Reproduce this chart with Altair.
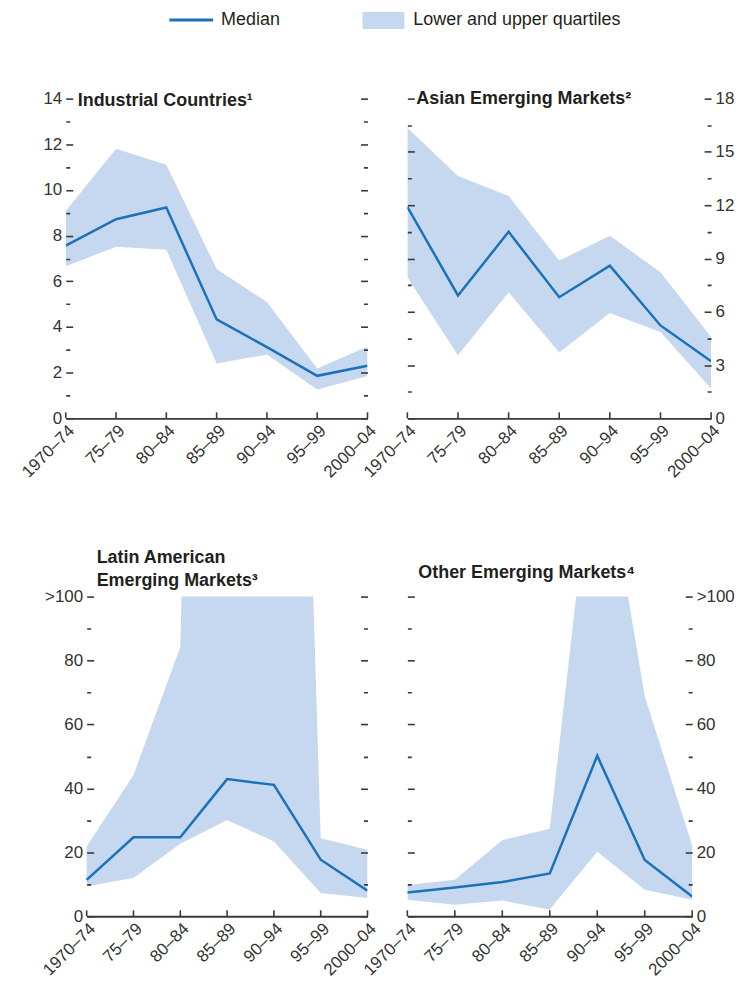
import altair as alt
import pandas as pd

FONT = "Liberation Sans Narrow, Arial Narrow, Liberation Sans, sans-serif"
LINE = "#1b72b9"
BAND = "#c6d8ef"
INK = "#231f20"
AX = "#3a3a3a"

periods = ["1970–74", "75–79", "80–84", "85–89", "90–94", "95–99", "2000–04"]

ind_med = [7.56, 8.72, 9.23, 4.33, 3.12, 1.86, 2.30]
ind_lo = [6.66, 7.51, 7.38, 2.40, 2.79, 1.26, 1.85]
ind_hi = [9.08, 11.8, 11.1, 6.54, 5.09, 2.18, 3.15]

asia_med = [11.9, 6.92, 10.5, 6.82, 8.6, 5.23, 3.21]
asia_lo = [7.94, 3.55, 7.1, 3.7, 5.93, 4.86, 1.68]
asia_hi = [16.36, 13.64, 12.52, 8.88, 10.28, 8.22, 4.58]

lat_med = [11.4, 24.7, 24.7, 42.9, 41.1, 17.7, 8.0]
lat_lo = [9.4, 12.0, 22.7, 30.1, 23.4, 7.3, 5.7]
lat_hi = [21.8, 44.2, 84.2, 700.0, 500.0, 24.4, 20.8]

oth_med = [7.4, 9.0, 10.7, 13.4, 50.2, 17.6, 6.2]
oth_lo = [5.2, 3.6, 4.9, 2.1, 20.2, 8.3, 5.2]
oth_hi = [9.8, 11.4, 23.8, 27.4, 158.0, 68.8, 22.2]

ind_ticks = [0, 1, 2, 3, 4, 5, 6, 7, 8, 9, 10, 11, 12, 13, 14]
asia_ticks = [0, 1.5, 3, 4.5, 6, 7.5, 9, 10.5, 12, 13.5, 15, 16.5, 18]
em_ticks = [0, 10, 20, 30, 40, 50, 60, 70, 80, 90, 100]

titles = [
    ["Industrial Countries¹"],
    ["Asian Emerging Markets²"],
    ["Latin American", "Emerging Markets³"],
    ["Other Emerging Markets⁴"],
]
legend_labels = ["Median", "Lower and upper quartiles"]

LABEL_SIZE = 17


def yaxis(orient, ticks, step, show_labels, offset, top_label=None):
    if top_label:
        lab = f"datum.value % {step} != 0 ? '' : (datum.value == {ticks[-1]} ? '{top_label}' : '' + datum.value)"
    else:
        lab = f"datum.value % {step} != 0 ? '' : '' + datum.value"
    return alt.Axis(
        orient=orient, values=ticks, title=None, grid=False, domain=False,
        labels=show_labels, labelExpr=lab, tickSize=7, offset=offset,
        tickColor=AX, tickWidth=1.6,
        tickDash={"condition": {"test": f"datum.value % {step} != 0", "value": [0, 3, 4, 30]}, "value": []},
        labelFontSize=LABEL_SIZE, labelPadding=4, labelColor="#333", labelFont=FONT, zindex=1,
    )


def one_row():
    return alt.InlineData(values=[{"k": 0}])


def panel(med, lo, hi, ymax, ticks, step, label_side, width, height, title_lines,
          title_x, title_y, x_start=0, top_label=None, legend=False):
    df = pd.DataFrame({"period": periods, "med": med, "lo": lo, "hi": hi})
    if x_start:
        xscale = alt.Scale(type="point", padding=0, range=[x_start, width])
    else:
        xscale = alt.Scale(type="point", padding=0)
    xenc = alt.X(
        "period:N", sort=periods, scale=xscale,
        axis=alt.Axis(title=None, labelAngle=-45, labelAlign="right", labelBaseline="top",
                      labelPadding=4, ticks=False, domainColor=AX, domainWidth=1.8,
                      labelFontSize=LABEL_SIZE, labelColor="#333", labelFont=FONT,
                      labelOverlap=False, zindex=1),
    )
    yscale = alt.Scale(domain=[0, ymax], nice=False)
    left_off = -(x_start + 7)
    area = alt.Chart(df).mark_area(color=BAND, opacity=1, clip=True).encode(
        x=xenc,
        y=alt.Y("lo:Q", scale=yscale,
                axis=yaxis("left", ticks, step, label_side == "left", left_off, top_label)),
        y2="hi:Q",
    )
    line = alt.Chart(df).mark_line(color=LINE, strokeWidth=2.5, clip=True).encode(
        x=xenc,
        y=alt.Y("med:Q", scale=yscale,
                axis=yaxis("right", ticks, step, label_side == "right", -7, top_label)),
    )
    xt = alt.Chart(df).mark_rule(color=AX, strokeWidth=1.6).encode(
        x=xenc, y=alt.value(height), y2=alt.value(height - 6)
    )
    layers = [area, line, xt]
    for i, t in enumerate(title_lines):
        layers.append(
            alt.Chart(one_row()).mark_text(
                text=t, align="left", baseline="middle", font=FONT, fontSize=18,
                fontWeight="bold", color=INK, x=title_x, y=title_y + 23 * i,
            )
        )
    if legend:
        layers.append(alt.Chart(one_row()).mark_rule(color=LINE, strokeWidth=3).encode(
            x=alt.value(104), x2=alt.value(148), y=alt.value(-79)))
        layers.append(alt.Chart(one_row()).mark_rect(color=BAND).encode(
            x=alt.value(298), x2=alt.value(340), y=alt.value(-87), y2=alt.value(-70)))
        layers.append(alt.Chart(one_row()).mark_text(
            text=legend_labels[0], align="left", baseline="middle", font=FONT,
            fontSize=18, color=INK, x=156, y=-79))
        layers.append(alt.Chart(one_row()).mark_text(
            text=legend_labels[1], align="left", baseline="middle", font=FONT,
            fontSize=18, color=INK, x=349, y=-79))
    return alt.layer(*layers).resolve_axis(y="independent").properties(width=width, height=height)


p1 = panel(ind_med, ind_lo, ind_hi, 14, ind_ticks, 2, "left", 303, 321, titles[0], 12, 2, legend=True)
p2 = panel(asia_med, asia_lo, asia_hi, 18, asia_ticks, 3, "right", 305, 321, titles[1], 9, 0)
p3 = panel(lat_med, lat_lo, lat_hi, 100, em_ticks, 20, "left", 303, 321, titles[2], 31, -39,
           x_start=21, top_label=">100")
p4 = panel(oth_med, oth_lo, oth_hi, 100, em_ticks, 20, "right", 286, 321, titles[3], 11, -24,
           top_label=">100")

chart = alt.concat(
    p1, p2, p3, p4, columns=2, spacing={"row": 179, "column": 40}, bounds="flush"
).properties(
    padding={"left": 10, "top": 1, "right": 0, "bottom": 0}
).configure(font=FONT).configure_view(stroke=None)

chart.save("out.html", embed_options={"renderer": "svg", "actions": False})
